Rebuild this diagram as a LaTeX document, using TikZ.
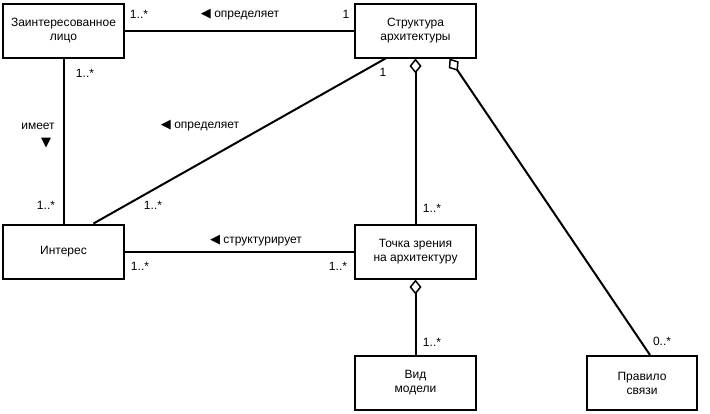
\documentclass[tikz,border=0pt]{standalone}
\usepackage{fontspec}
\setmainfont{Liberation Sans}
\newfontfamily\symfont{DejaVu Sans}
\usetikzlibrary{arrows.meta}
\tikzset{
	box/.style={draw, line width=2pt, align=center, inner sep=2pt, minimum width=121pt, minimum height=54pt, font=\fontsize{12}{14}\selectfont},
	link/.style={line width=2pt},
	agg/.style={{Diamond[open,length=15pt,width=12pt,line width=1.5pt]}-},
	lbl/.style={inner sep=1pt, font=\fontsize{12}{14}\selectfont},
}
\newcommand{\lt}{{\symfont\fontsize{13}{14}\selectfont\char"25C0}}
\newcommand{\dn}{{\symfont\fontsize{13}{14}\selectfont\char"25BC}}
\begin{document}
\begin{tikzpicture}[x=1pt,y=-1pt]
				\useasboundingbox (0,0) rectangle (710,413);
				\node[box] (lico) at (63.5,30.5) {Заинтересованное\\лицо};
				\node[box] (struct) at (415.5,30.5) {Структура\\архитектуры};
				\node[box] (interes) at (63.5,251.5) {Интерес};
				\node[box] (tochka) at (415.5,251.5) {Точка зрения\\на архитектуру};
				\node[box] (vid) at (415.5,383) {Вид\\модели};
				\node[box, minimum width=110pt] (pravilo) at (642,383) {Правило\\связи};
				\draw[link] (lico) -- (struct);
				\draw[link] (lico) -- (interes);
				\draw[link] ([xshift=-30pt]struct.south) -- ([xshift=30pt]interes.north);
				\draw[link] (interes) -- (tochka);
				\draw[link,agg] (struct) -- (tochka);
				\draw[link,agg] ([xshift=34pt]struct.south) -- ([xshift=8pt]pravilo.north);
				\draw[link,agg] (tochka) -- (vid);
				\node[lbl] (m1) at (139,14) {1..*};
				\node[lbl] (r1) at (240,15) {\lt\ определяет};
				\node[lbl] (m2) at (346,14) {1};
				\node[lbl] (m3) at (85,73) {1..*};
				\node[lbl] (r2) at (38,126) {имеет};
				\node[lbl] (r2dn) at (46,143) {\dn};
				\node[lbl] (r3) at (200,126) {\lt\ определяет};
				\node[lbl] (m4) at (383,72) {1};
				\node[lbl] (m5) at (46,205) {1..*};
				\node[lbl] (m6) at (153,205) {1..*};
				\node[lbl] (r4) at (256,241) {\lt\ структурирует};
				\node[lbl] (m7) at (140,266) {1..*};
				\node[lbl] (m8) at (338,266) {1..*};
				\node[lbl] (m9) at (432,208) {1..*};
				\node[lbl] (m10) at (432,342) {1..*};
				\node[lbl] (m11) at (662,341) {0..*};
\end{tikzpicture}
\end{document}
